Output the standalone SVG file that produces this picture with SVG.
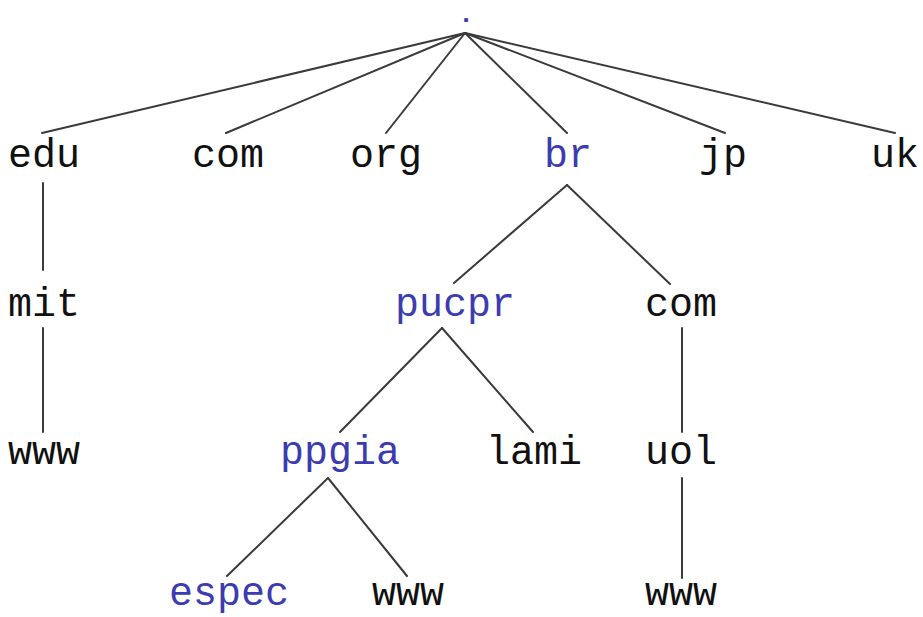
<svg xmlns="http://www.w3.org/2000/svg" width="923" height="617" viewBox="0 0 923 617">
<style>
text{font-family:"Liberation Mono","Courier New",monospace;font-size:40px;text-anchor:middle;fill:#111}
.b{fill:#3c3cb0}
.d{font-size:26px;font-weight:bold}
.e line{stroke:#3a3a3a;stroke-width:2;stroke-linecap:round}
</style>
<rect width="923" height="617" fill="#fff"/>
<g class="e" id="connectors">
<line x1="465" y1="33" x2="42" y2="133"/>
<line x1="465" y1="33" x2="226" y2="133"/>
<line x1="465" y1="33" x2="386" y2="133"/>
<line x1="465" y1="33" x2="567" y2="133"/>
<line x1="465" y1="33" x2="725" y2="133"/>
<line x1="465" y1="33" x2="895" y2="133"/>
<line x1="43" y1="183" x2="43" y2="270"/>
<line x1="43" y1="328" x2="43" y2="432"/>
<line x1="567" y1="185" x2="454" y2="283"/>
<line x1="567" y1="185" x2="670" y2="284"/>
<line x1="442" y1="328" x2="340" y2="432"/>
<line x1="442" y1="328" x2="533" y2="432"/>
<line x1="682" y1="328" x2="682" y2="432"/>
<line x1="328" y1="478" x2="227" y2="576"/>
<line x1="328" y1="478" x2="407" y2="576"/>
<line x1="682" y1="478" x2="682" y2="578"/>
</g>
<g id="root"><text class="b d" x="466" y="22">.</text></g>
<g id="edu"><text x="44" y="167">edu</text></g>
<g id="com"><text x="228" y="167">com</text></g>
<g id="org"><text x="386" y="167">org</text></g>
<g id="br"><text class="b" x="568" y="167">br</text></g>
<g id="jp"><text x="723" y="167">jp</text></g>
<g id="uk"><text x="895" y="167">uk</text></g>
<g id="mit"><text x="44" y="316">mit</text></g>
<g id="pucpr"><text class="b" x="455" y="316">pucpr</text></g>
<g id="com2"><text x="681" y="316">com</text></g>
<g id="www1"><text x="44" y="464">www</text></g>
<g id="ppgia"><text class="b" x="340" y="464">ppgia</text></g>
<g id="lami"><text x="534" y="464">lami</text></g>
<g id="uol"><text x="681" y="464">uol</text></g>
<g id="espec"><text class="b" x="229" y="605">espec</text></g>
<g id="www2"><text x="408" y="605">www</text></g>
<g id="www3"><text x="681" y="605">www</text></g>
</svg>
